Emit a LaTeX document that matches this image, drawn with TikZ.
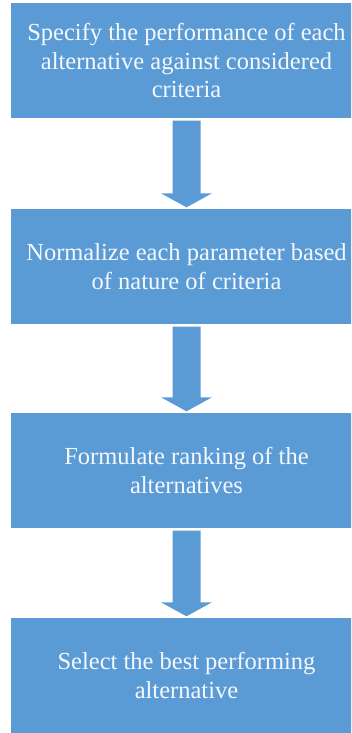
\documentclass[tikz,border=0pt]{standalone}
\usepackage{fontspec}
\newfontfamily\stepfont{Liberation Serif}
\usetikzlibrary{calc}
\definecolor{boxblue}{HTML}{5B9BD5}
\definecolor{txtwhite}{HTML}{F4F8FC}
\newcommand{\blockarrow}[2]{%
  \fill[boxblue] ($(#1.south)+(-14,-2.5)$) -- ($(#2.north)+(-14,15.5)$) -- ($(#2.north)+(-25.5,15.5)$)
    -- ($(#2.north)+(0,1.5)$) -- ($(#2.north)+(25.5,15.5)$) -- ($(#2.north)+(14,15.5)$)
    -- ($(#1.south)+(14,-2.5)$) -- cycle;}
\begin{document}
\begin{tikzpicture}[x=1pt,y=1pt,
  stepbox/.style={fill=boxblue, draw=none, minimum width=351pt, minimum height=115pt,
    inner sep=0pt, text=txtwhite, align=center, font=\stepfont\fontsize{24.5}{28.5}\selectfont}]
\useasboundingbox (0,0) rectangle (351,-733);
\clip (0,0) rectangle (351,-733);
\node[stepbox] (s1) at (186.5,-60.5) {Specify the performance of each\\alternative against considered\\criteria};
\node[stepbox] (s2) at (186.5,-266.5) {Normalize each parameter based\\of nature of criteria};
\node[stepbox] (s3) at (186.5,-470.5) {Formulate ranking of the\\alternatives};
\node[stepbox] (s4) at (186.5,-675.5) {Select the best performing\\alternative};
\blockarrow{s1}{s2}
\blockarrow{s2}{s3}
\blockarrow{s3}{s4}
\end{tikzpicture}
\end{document}
